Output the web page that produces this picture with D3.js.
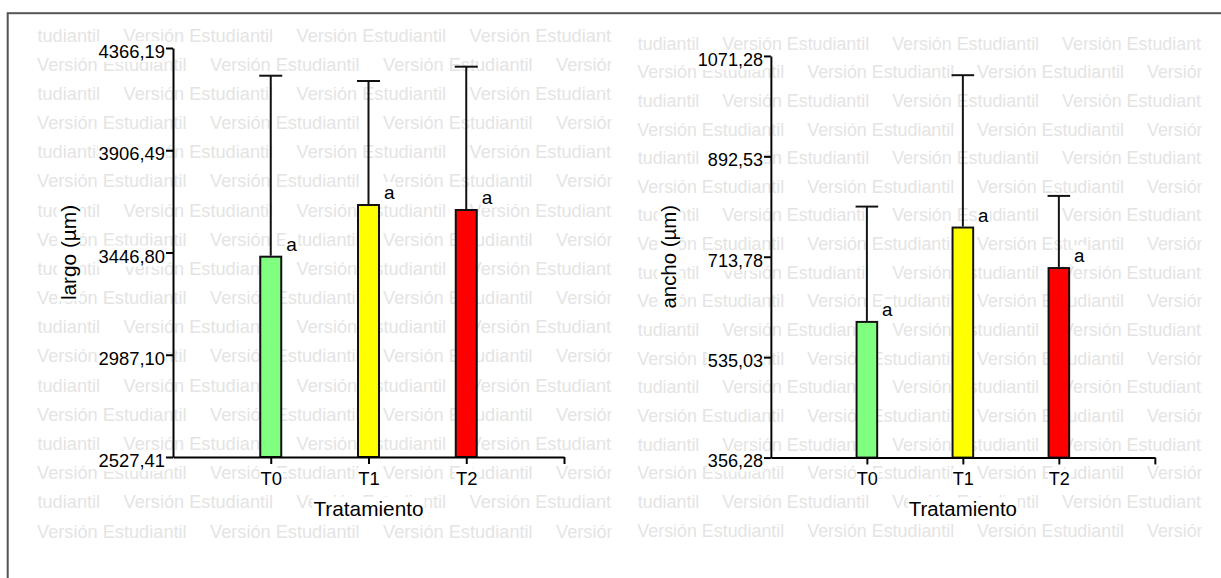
<!DOCTYPE html>
<html>
<head>
<meta charset="utf-8">
<script src="https://cdn.jsdelivr.net/npm/d3@7"></script>
<style>
  html, body { margin: 0; padding: 0; background: #fff; }
  svg { display: block; }
  text { font-family: "Liberation Sans", Arial, sans-serif; }
</style>
</head>
<body>
<svg id="chart" width="1221" height="578"></svg>
<script>
// ---- data ----
const categories = ["T0", "T1", "T2"];
const barColors = ["#80ff80", "#ffff00", "#ff0000"];
const sigLetters = ["a", "a", "a"];

const largoMeans = [3427.9, 3660.3, 3637.9];
const largoErr   = [813.7, 557.5, 644.3];
const largoTicks = [2527.41, 2987.10, 3446.80, 3906.49, 4366.19];

const anchoMeans = [597.8, 765.8, 693.7];
const anchoErr   = [205.3, 271.2, 128.4];
const anchoTicks = [356.28, 535.03, 713.78, 892.53, 1071.28];

const xTitle = "Tratamiento";
const yTitles = ["largo (µm)", "ancho (µm)"];
const watermarkText = "Versión Estudiantil";

// ---- setup ----
const svg = d3.select("#chart");
const esLocale = d3.formatLocale({decimal: ",", thousands: ".", grouping: [3], currency: ["", ""]});
const fmt = esLocale.format(".2f");

// outer frame
svg.append("rect")
  .attr("x", 7.7).attr("y", 13.2).attr("width", 1240).attr("height", 600)
  .attr("fill", "none").attr("stroke", "#555").attr("stroke-width", 2);

function addBg(sel, pad) {
  sel.each(function() {
    const b = this.getBBox();
    d3.select(this.parentNode).insert("rect", () => this)
      .attr("x", b.x - pad).attr("y", b.y - pad + 1)
      .attr("width", b.width + 2 * pad).attr("height", b.height + 2 * pad - 2)
      .attr("fill", "#fff");
  });
}

function panel(g, idx, means, errs, ticks, yTitle) {
  // clip for watermark
  const clipId = "wm" + idx;
  g.append("clipPath").attr("id", clipId)
    .append("rect").attr("x", 37).attr("y", 14).attr("width", 575).attr("height", 560);

  const wm = g.append("g").attr("clip-path", `url(#${clipId})`);
  const period = 173, rowStep = 29.18;
  for (let k = 0; k < 18; k++) {
    const off = (k % 2 === 0) ? 37 + 86.5 - period : 37;
    for (let j = 0; j < 5; j++) {
      wm.append("text")
        .attr("x", off + j * period)
        .attr("y", 41.5 + k * rowStep)
        .attr("font-size", 18.2)
        .attr("fill", "#e4e4e4")
        .text(watermarkText);
    }
  }

  const x = d3.scaleLinear().domain([0, 4]).range([173, 564]);
  const y = d3.scaleLinear().domain([ticks[0], ticks[ticks.length - 1]]).range([457, 48]);
  const bw = 21;

  // bars
  g.selectAll(".bar").data(means).join("rect")
    .attr("x", (d, i) => x(i + 1) - bw / 2)
    .attr("y", d => y(d))
    .attr("width", bw)
    .attr("height", d => y(ticks[0]) - y(d))
    .attr("fill", (d, i) => barColors[i])
    .attr("stroke", "#111").attr("stroke-width", 2);

  // error bars
  const eb = g.append("g");
  means.forEach((m, i) => {
    const cx = x(i + 1);
    eb.append("line").attr("x1", cx).attr("x2", cx)
      .attr("y1", y(m) - 1).attr("y2", y(m + errs[i]))
      .attr("stroke", "#111").attr("stroke-width", 2);
    eb.append("line").attr("x1", cx - 11.5).attr("x2", cx + 11.5)
      .attr("y1", y(m + errs[i])).attr("y2", y(m + errs[i]))
      .attr("stroke", "#111").attr("stroke-width", 2);
  });

  // significance letters
  const lt = g.append("g");
  const letters = lt.selectAll("text").data(means).join("text")
    .attr("x", (d, i) => x(i + 1) + bw / 2 + 5)
    .attr("y", d => y(d) - 6)
    .attr("font-size", 19)
    .attr("fill", "#000")
    .text((d, i) => sigLetters[i]);
  addBg(letters, 1);

  // y axis
  const ya = g.append("g").attr("transform", `translate(${x(0)},0)`)
    .call(d3.axisLeft(y).tickValues(ticks).tickFormat(fmt).tickSize(7).tickPadding(1).tickSizeOuter(0));
  ya.select(".domain").attr("stroke", "#000").attr("stroke-width", 2);
  ya.selectAll(".tick line").attr("stroke", "#000").attr("stroke-width", 2);
  const yt = ya.selectAll(".tick text")
    .attr("font-size", 18.4).attr("font-family", "Liberation Sans, Arial, sans-serif")
    .attr("fill", "#000").attr("dy", "0.52em");
  addBg(yt, 1);

  // x axis
  const xa = g.append("g").attr("transform", `translate(0,${y(ticks[0])})`)
    .call(d3.axisBottom(x).tickValues([1, 2, 3, 4])
      .tickFormat(i => categories[i - 1] || "").tickSize(7).tickSizeOuter(0));
  xa.select(".domain").attr("stroke", "#000").attr("stroke-width", 2);
  xa.selectAll(".tick line").attr("stroke", "#000").attr("stroke-width", 2);
  const xt = xa.selectAll(".tick text")
    .attr("font-size", 18.4).attr("font-family", "Liberation Sans, Arial, sans-serif")
    .attr("fill", "#000").attr("y", 28).attr("dy", 0);
  xt.filter(function() { return this.textContent === ""; }).remove();
  addBg(xa.selectAll(".tick text"), 1);

  // axis titles
  const xtl = g.append("text")
    .attr("x", (x(0) + x(4)) / 2).attr("y", 516)
    .attr("text-anchor", "middle").attr("font-size", 20.8).attr("fill", "#000")
    .text(xTitle);
  addBg(xtl, 1);

  const ytg = g.append("g").attr("transform", `translate(76,${(y.range()[0] + y.range()[1]) / 2}) rotate(-90)`);
  const ytl = ytg.append("text")
    .attr("text-anchor", "middle").attr("font-size", 20.8).attr("fill", "#000")
    .text(yTitle);
  addBg(ytl, 1);
}

panel(svg.append("g"), 0, largoMeans, largoErr, largoTicks, yTitles[0]);
panel(svg.append("g").attr("transform", "translate(601,8.8) scale(0.982)"), 1, anchoMeans, anchoErr, anchoTicks, yTitles[1]);
</script>
</body>
</html>
